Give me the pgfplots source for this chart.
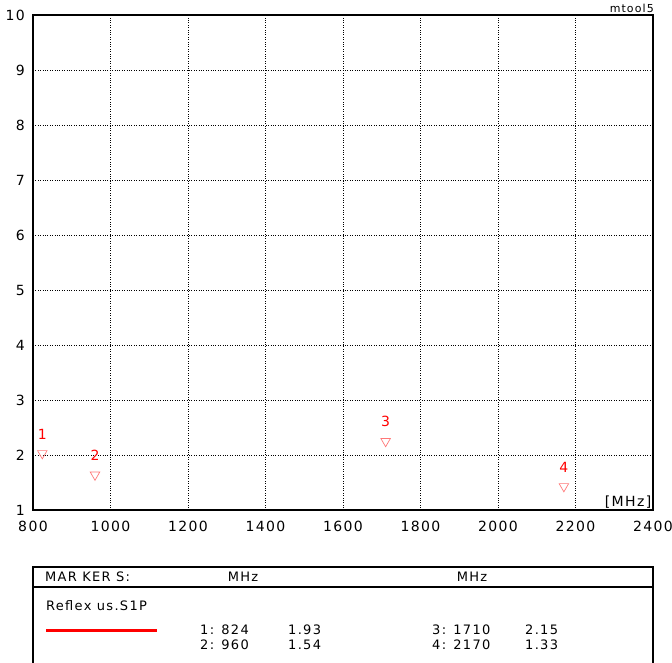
\documentclass[border=0pt]{standalone}
\usepackage{pgfplots}
\pgfplotsset{compat=1.18}
\usepackage{fontspec}
\setmainfont{DejaVu Sans}[LetterSpace=10]
\definecolor{mkred}{RGB}{255,0,0}
\definecolor{trired}{RGB}{255,120,120}

\begin{document}
\begin{tikzpicture}[x=1pt,y=1pt]
\useasboundingbox (-33,-152) rectangle (639,510);
\begin{axis}[
    at={(0,0)}, anchor=south west,
    scale only axis,
    width=620pt, height=495pt,
    xmin=800, xmax=2400, ymin=1, ymax=10,
    xtick distance=200, ytick distance=1,
    scaled ticks=false,
    /pgf/number format/1000 sep={},
    /pgf/number format/assume math mode=true,
    tick style={draw=none},
    major tick length=0pt,
    grid=major,
    grid style={black, dotted, line width=0.7pt},
    axis line style={line width=2pt},
    ticklabel style={font=\fontsize{14}{14}\selectfont, inner sep=0pt},
    xticklabel style={anchor=north, yshift=-11pt},
    yticklabel style={anchor=east, xshift=-8pt},
    clip=false,
]
\addplot[only marks, mark=triangle, mark size=5.5pt, draw=trired,
    mark options={yshift=5.5pt, rotate=180, line width=0.7pt, draw=trired, fill=none},
    nodes near coords, point meta=explicit symbolic,
    every node near coord/.style={anchor=south, inner sep=0pt, yshift=14pt,
        text=mkred, font=\fontsize{14}{14}\selectfont}]
    table[meta=label] {
    x     y     label
    824   1.93  1
    960   1.54  2
    1710  2.15  3
    2170  1.33  4
};
\end{axis}
% top-right tag and unit
\node[anchor=base east, inner sep=0pt, font=\fontsize{11}{11}\selectfont] at (621,497.5) {mtool5};
\node[anchor=base east, inner sep=0pt, font=\fontsize{14}{14}\selectfont] at (618.5,3.5) {[MHz]};
% marker table
\draw[line width=2pt] (0,-153) -- (0,-57) -- (620,-57) -- (620,-153);
\draw[line width=2pt] (0,-77) -- (620,-77);
\begin{scope}[every node/.style={inner sep=0pt, font=\fontsize{13}{13}\selectfont}]
\node[anchor=base west] at (12,-71) {MAR KER S:};
\node[anchor=base] at (210,-71) {MHz};
\node[anchor=base] at (439,-71) {MHz};
\node[anchor=base west] at (13,-100) {Reflex us.S1P};
\draw[mkred, line width=3pt] (13,-120.7) -- (124,-120.7);
\node[anchor=base west] at (167,-124) {1: 824};
\node[anchor=base west] at (167,-139) {2: 960};
\node[anchor=base west] at (255,-124) {1.93};
\node[anchor=base west] at (255,-139) {1.54};
\node[anchor=base west] at (399,-124) {3: 1710};
\node[anchor=base west] at (399,-139) {4: 2170};
\node[anchor=base west] at (492,-124) {2.15};
\node[anchor=base west] at (492,-139) {1.33};
\end{scope}
\end{tikzpicture}
\end{document}
